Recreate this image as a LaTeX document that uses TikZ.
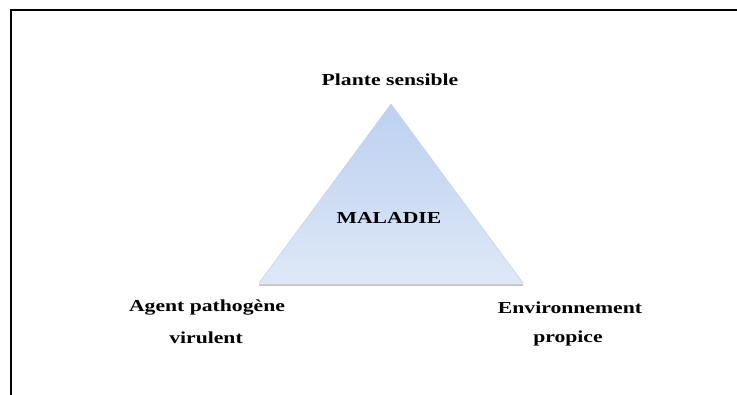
\documentclass[tikz,border=0pt]{standalone}
\usepackage{fontspec}
\setmainfont{Liberation Serif}
\begin{document}
\begin{tikzpicture}[x=1pt,y=-1pt,
  label/.style={font=\fontsize{16.8}{20}\selectfont\bfseries, text=black,
    inner sep=0pt, xscale=1.29, transform shape},
  frame/.style={draw=black, line width=2.2pt}]
  \useasboundingbox (0,0) rectangle (737,394);
  \clip (0,0) rectangle (737,394);
  \fill[white] (0,0) rectangle (737,394);
  % page frame
  \coordinate (fbl) at (11,400);
  \coordinate (ftl) at (11,10);
  \coordinate (ftr) at (745,10);
  \draw[frame] (fbl) -- (ftl) -- (ftr);
  % triangle corners
  \coordinate (apex) at (391,104);
  \coordinate (bl) at (259,283);
  \coordinate (br) at (523,283);
  % soft shadow under the base
  \draw[black!22, line width=1.4pt] ([yshift=-2pt]bl) -- ([yshift=-2pt]br);
  \shade[top color={rgb,255:red,188;green,208;blue,240},
         middle color={rgb,255:red,166;green,192;blue,232},
         bottom color={rgb,255:red,222;green,232;blue,247},
         draw={rgb,255:red,196;green,210;blue,230}, line width=0.5pt]
    (apex) -- (br) -- (bl) -- cycle;
  % labels
  \node[label] (maladie) at (389,218) {MALADIE};
  \node[label] (plante) at (390,80) {Plante sensible};
  \node[label] (agent) at (207,308) {Agent pathogène};
  \node[label] (viru) at (206,338) {virulent};
  \node[label] (env) at (570,308) {Environnement};
  \node[label] (prop) at (568,338) {propice};
\end{tikzpicture}
\end{document}
